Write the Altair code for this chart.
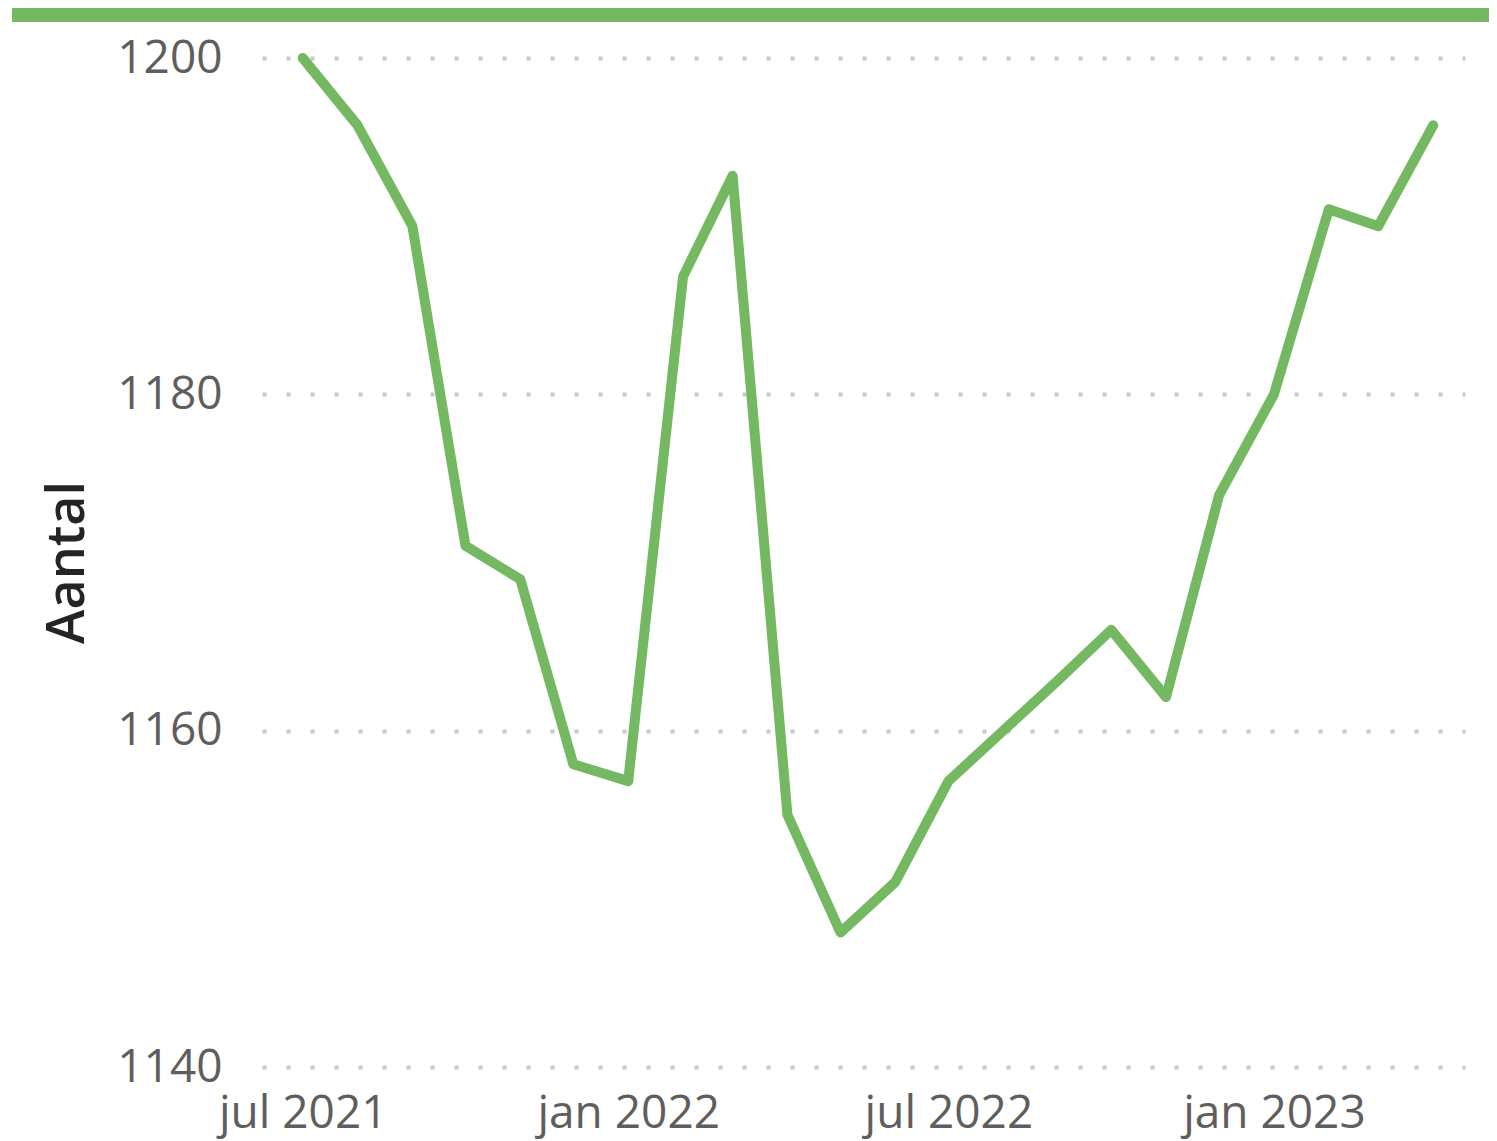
import altair as alt
import pandas as pd

months = ["2021-07-01", "2021-08-01", "2021-09-01", "2021-10-01", "2021-11-01", "2021-12-01",
          "2022-01-01", "2022-02-01", "2022-03-01", "2022-04-01", "2022-05-01", "2022-06-01",
          "2022-07-01", "2022-08-01", "2022-09-01", "2022-10-01", "2022-11-01", "2022-12-01",
          "2023-01-01", "2023-02-01", "2023-03-01", "2023-04-01"]
aantal = [1200, 1196, 1190, 1171, 1169, 1158,
          1157, 1187, 1193, 1155, 1148, 1151,
          1157, 1160, 1163, 1166, 1162, 1174,
          1180, 1191, 1190, 1196]
y_ticks = [1140, 1160, 1180, 1200]

df = pd.DataFrame({"maand": months, "Aantal": aantal})

GREEN = "#74b862"
FONT = "Open Sans"

x_ticks = [alt.DateTime(year=2021, month=7, date=1, utc=True),
           alt.DateTime(year=2022, month=1, date=1, utc=True),
           alt.DateTime(year=2022, month=7, date=1, utc=True),
           alt.DateTime(year=2023, month=1, date=1, utc=True)]

x_enc = alt.X(
    "maand:T",
    scale=alt.Scale(type="utc",
                    domain=[alt.DateTime(year=2021, month=6, date=8, utc=True),
                            alt.DateTime(year=2023, month=4, date=19, utc=True)]),
    axis=alt.Axis(values=x_ticks, title=None, grid=False, domain=False, ticks=False,
                  labelExpr="lower(utcFormat(datum.value, '%b %Y'))",
                  labelFont=FONT, labelFontSize=46, labelColor="#605e5c",
                  labelPadding=24, labelFlush=False, labelLimit=1000, labelOverlap=False),
)
y_enc = alt.Y(
    "Aantal:Q",
    scale=alt.Scale(domain=[1140, 1200], nice=False, zero=False),
    axis=alt.Axis(values=y_ticks, format="d", title="Aantal", grid=True, domain=False, ticks=False,
                  gridColor="#c8c8c8", gridDash=[4, 20], gridWidth=4,
                  labelFont=FONT, labelFontSize=46, labelColor="#605e5c",
                  labelPadding=40,
                  titleFont=FONT, titleFontSize=52, titleFontWeight=600, titleColor="#252423",
                  titleX=-195, titleY=504, titleBaseline="middle", titleAlign="center"),
)

line = alt.Chart(df).mark_line(color=GREEN, strokeWidth=10, strokeCap="round",
                               strokeJoin="round").encode(x=x_enc, y=y_enc)

band = alt.Chart(alt.Data(values=[{"k": 1}])).mark_rect(color=GREEN, clip=False).encode(
    x=alt.value(-250), x2=alt.value(1227), y=alt.value(-50), y2=alt.value(-36))

chart = alt.layer(band, line).properties(
    width=1203, height=1009,
    padding={"left": 254, "top": 50, "right": 24, "bottom": 74},
    autosize=alt.AutoSizeParams(type="none"),
).configure_view(stroke=None)

chart.save("out.html", embed_options={"renderer": "svg", "actions": False})
